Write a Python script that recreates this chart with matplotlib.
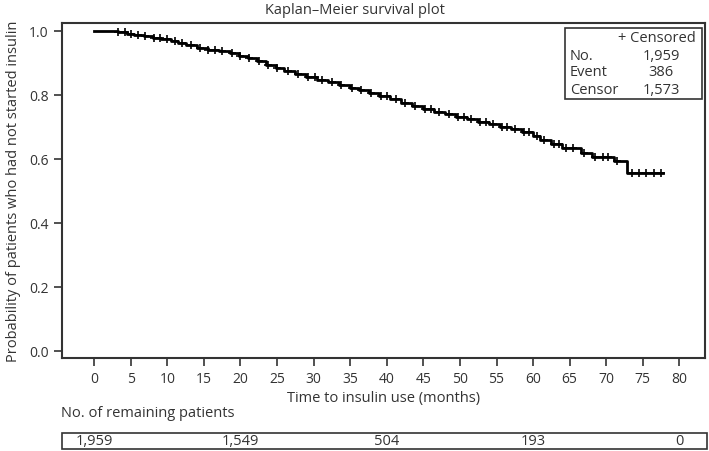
import numpy as np
import matplotlib
matplotlib.use("Agg")
import matplotlib.pyplot as plt
from matplotlib.patches import Rectangle
from matplotlib.transforms import blended_transform_factory

plt.rcParams['font.family'] = ['Open Sans', 'DejaVu Sans']

# step curve (months, survival probability)
step_times = [0, 3.2, 4.5, 5.5, 6.8, 8.0, 9.2, 10.5, 11.5, 12.5,
              14.0, 15.5, 17.0, 18.5, 19.8, 21.0, 22.2, 23.5, 24.8, 26.0,
              27.5, 29.0, 30.5, 32.0, 33.5, 35.0, 36.2, 37.5, 39.0, 40.5,
              42.0, 43.5, 45.0, 46.5, 48.0, 49.5, 51.0, 52.5, 54.0, 55.5,
              57.0, 58.5, 60.0, 61.0, 62.5, 64.0, 66.5, 68.0, 71.0, 72.8]
step_surv = [1.0, 0.996, 0.992, 0.988, 0.984, 0.979, 0.975, 0.970, 0.962, 0.955,
             0.948, 0.942, 0.936, 0.930, 0.922, 0.915, 0.905, 0.895, 0.884, 0.874,
             0.866, 0.857, 0.847, 0.840, 0.832, 0.822, 0.815, 0.806, 0.796, 0.786,
             0.776, 0.765, 0.757, 0.748, 0.740, 0.732, 0.724, 0.716, 0.708, 0.701,
             0.694, 0.684, 0.672, 0.660, 0.648, 0.633, 0.620, 0.607, 0.595, 0.555]
end_time = 77.7

censor_times = [3.3, 4.2, 5.0, 6.0, 7.0, 8.2, 9.0, 10.0, 11.0, 12.0, 13.2, 14.5,
                15.5, 16.5, 17.5, 18.8, 20.0, 21.2, 22.5, 23.8, 25.0, 26.5, 27.8,
                29.2, 30.2, 31.2, 32.5, 33.8, 35.2, 36.5, 37.8, 39.2, 40.0, 41.2,
                42.5, 43.8, 45.2, 46.0, 47.2, 48.5, 49.8, 50.5, 51.5, 52.8, 53.5,
                54.5, 55.8, 56.5, 57.5, 58.8, 59.5, 60.5, 61.5, 62.8, 63.5, 64.5,
                65.5, 67.0, 68.5, 69.5, 70.2, 71.5, 73.5, 74.5, 75.5, 76.5, 77.5]

risk_times = [0, 20, 40, 60, 80]
risk_counts = ["1,959", "1,549", "504", "193", "0"]

W, H = 709, 452
fig = plt.figure(figsize=(W / 100, H / 100), dpi=100)


def fx(px):
    return px / W


def fy(py):
    return 1 - py / H


ax = fig.add_axes([fx(62), fy(359), fx(705) - fx(62), fy(24) - fy(359)])

t = np.array(step_times + [end_time])
s = np.array(step_surv + [step_surv[-1]])
ax.step(t, s, where='post', color='black', lw=2)

idx = np.searchsorted(step_times, censor_times, side='right') - 1
ax.plot(censor_times, np.array(step_surv)[idx], ls='none', marker='+',
        color='black', ms=5.5, mew=1.2)

ax.set_xlim(-4.4, 83.5)
ax.set_ylim(-0.022, 1.025)
ax.set_xticks(np.arange(0, 81, 5))
ax.set_yticks(np.arange(0, 1.01, 0.2))
ax.set_yticklabels([f"{v:.1f}" for v in np.arange(0, 1.01, 0.2)])
ax.tick_params(direction='out', length=6, width=1.2, labelsize=10,
               colors='#333333', labelcolor='#333333')
for sp in ax.spines.values():
    sp.set_linewidth(1.5)
    sp.set_color('#333333')

ax.set_xlabel("Time to insulin use (months)", fontsize=10.5, color='#333333', labelpad=3)
ax.set_ylabel("Probability of patients who had not started insulin",
              fontsize=10.5, color='#333333', labelpad=6)
fig.text(0.5, fy(10), "Kaplan\u2013Meier survival plot", ha='center', va='center',
         fontsize=10.5, color='#333333')

# legend box
fig.patches.append(Rectangle((fx(565), fy(100)), fx(702) - fx(565), fy(29) - fy(100),
                             transform=fig.transFigure, fill=False,
                             edgecolor='#333333', lw=1.2))
tc = dict(fontsize=10.5, color='#333333', va='center')
fig.text(fx(696), fy(39), "+ Censored", ha='right', **tc)
fig.text(fx(570), fy(56), "No.", ha='left', **tc)
fig.text(fx(680), fy(56), "1,959", ha='right', **tc)
fig.text(fx(570), fy(73), "Event", ha='left', **tc)
fig.text(fx(661), fy(73), "386", ha='center', **tc)
fig.text(fx(570), fy(90), "Censor", ha='left', **tc)
fig.text(fx(680), fy(90), "1,573", ha='right', **tc)

# number at risk
fig.text(fx(61), fy(414), "No. of remaining patients", ha='left', **tc)
fig.patches.append(Rectangle((fx(62), fy(450)), fx(707) - fx(62), fy(434) - fy(450),
                             transform=fig.transFigure, fill=False,
                             edgecolor='#333333', lw=1.2))
trans = blended_transform_factory(ax.transData, fig.transFigure)
for rt, rc in zip(risk_times, risk_counts):
    ax.text(rt, fy(442), rc, transform=trans, ha='center', clip_on=False, **tc)

fig.savefig("out.png", dpi=100)
